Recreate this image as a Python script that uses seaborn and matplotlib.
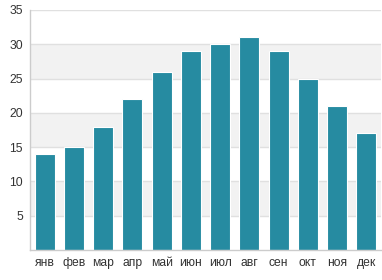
import matplotlib
matplotlib.use("Agg")
import matplotlib.pyplot as plt
import seaborn as sns
import pandas as pd

# monthly values
months = ["янв", "фев", "мар", "апр", "май", "июн", "июл", "авг", "сен", "окт", "ноя", "дек"]
values = [14, 15, 18, 22, 26, 29, 30, 31, 29, 25, 21, 17]
y_ticks = [5, 10, 15, 20, 25, 30, 35]

bar_color = "#268ba1"

sns.set_theme(style="white")
plt.rcParams['font.family'] = ['Liberation Sans', 'DejaVu Sans']

df = pd.DataFrame({"month": months, "value": values})

fig = plt.figure(figsize=(3.82, 2.80), dpi=100)
ax = fig.add_axes([30 / 382, 30 / 280, 351 / 382, 240 / 280])

# alternating bands behind the bars
for lo in range(5, 35, 10):
    ax.axhspan(lo, lo + 5, color="#f2f2f2", zorder=0, lw=0)
for t in y_ticks:
    ax.axhline(t, color="#e0e0e0", lw=1, zorder=0.5)

sns.barplot(data=df, x="month", y="value", color=bar_color, width=0.68,
            edgecolor="white", linewidth=0.8, saturation=1, ax=ax, zorder=2)

ax.set_ylim(0, 35)
ax.set_xlim(-0.5, 11.5)
ax.set_yticks(y_ticks)
ax.set_xlabel("")
ax.set_ylabel("")
ax.tick_params(axis="both", length=0, labelsize=8.7, colors="#333333")
ax.tick_params(axis="y", pad=5)
ax.tick_params(axis="x", pad=5)

for side in ["top", "right"]:
    ax.spines[side].set_visible(False)
for side in ["left", "bottom"]:
    ax.spines[side].set_color("#cccccc")
    ax.spines[side].set_linewidth(1)

fig.savefig("out.png", dpi=100)
